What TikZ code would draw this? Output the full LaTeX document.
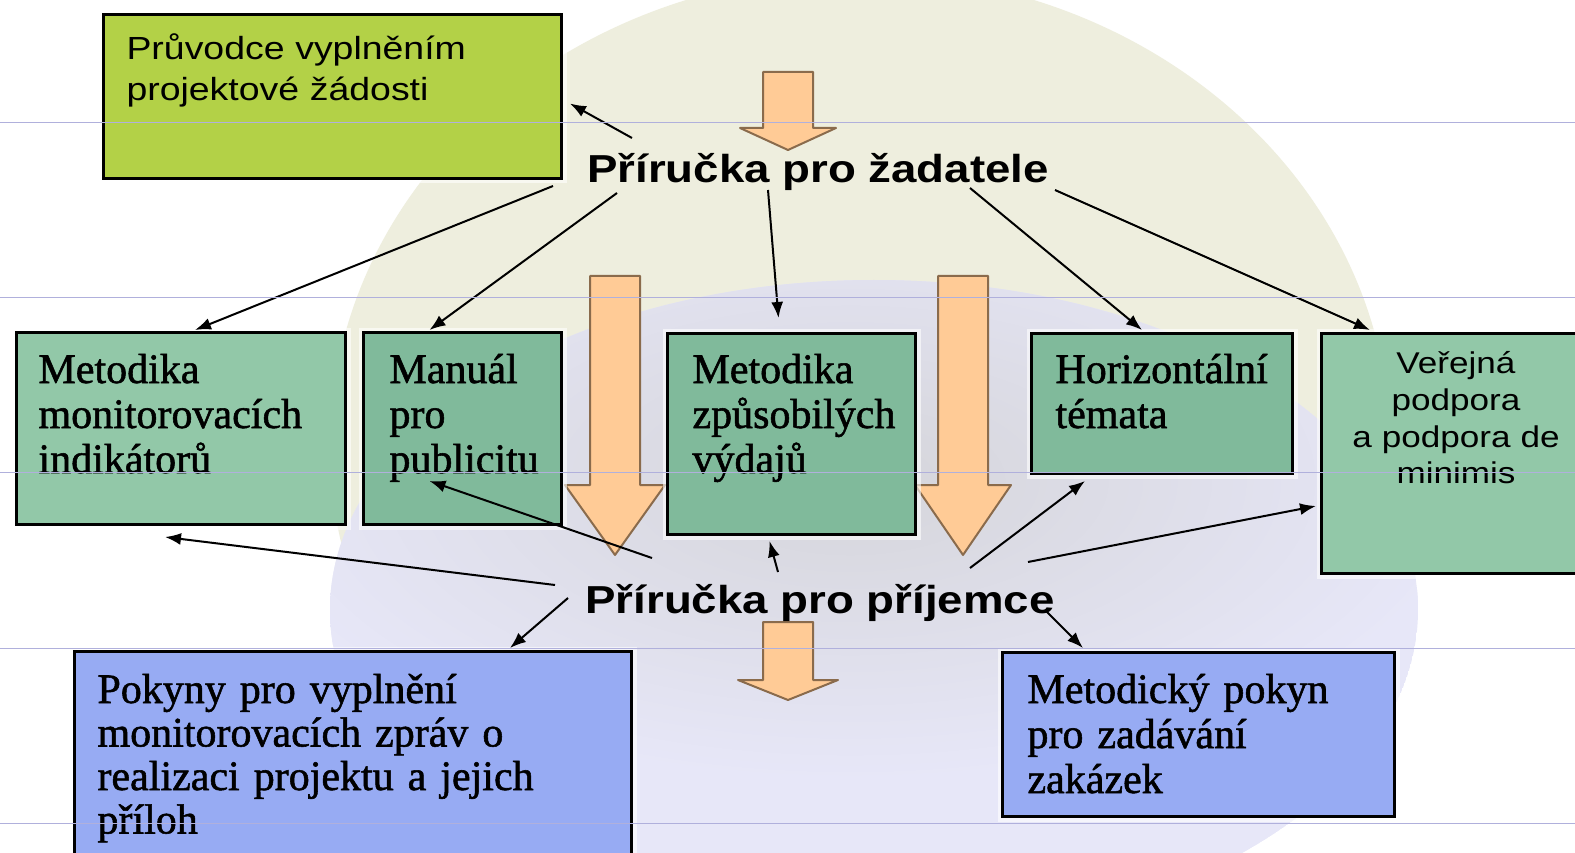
\documentclass[tikz,border=0pt]{standalone}
\usepackage{fontspec}
\setmainfont{Liberation Serif}[FakeBold=1.3,WordSpace=0.75]
\newfontfamily\arialw{Liberation Sans}[FakeStretch=1.17]
\usetikzlibrary{arrows.meta}
\definecolor{beigec}{HTML}{EEEEDE}
\definecolor{grayc}{HTML}{D5D5DA}
\definecolor{lavc}{HTML}{E7E7F8}
\definecolor{limec}{HTML}{B3D147}
\definecolor{tealc}{HTML}{80BA9B}
\definecolor{lightteal}{HTML}{92C8A8}
\definecolor{bluec}{HTML}{97ABF3}
\definecolor{arrowfill}{HTML}{FFCB96}
\definecolor{arrowline}{HTML}{8A6B4C}
\definecolor{gridc}{HTML}{B0B0DC}

\begin{document}
\begin{tikzpicture}[x=1pt,y=-1pt,line width=1pt,
  docbox/.style={draw=black,line width=3pt,inner sep=0pt,anchor=north west,preaction={draw=white,line width=10pt,opacity=.6}},
  doctext/.style={anchor=base west,inner sep=0pt,align=left,text width=520pt,font=\fontsize{42}{45}\selectfont},
  handbook/.style={anchor=base,inner sep=0pt,font=\arialw\bfseries\fontsize{39}{46}\selectfont},
  conn/.style={line width=2pt,-{Latex[length=16pt,width=12pt]}},
  bigarrow/.style={draw=arrowline,fill=arrowfill,line width=2pt,line join=round},
  gridline/.style={draw=gridc,line width=1pt}]
\path[use as bounding box,fill=white] (0,0) rectangle (1575,853);
\fill[beigec] (860,446) ellipse [x radius=530,y radius=472];
\begin{scope}
\clip (874,610) ellipse [x radius=544,y radius=330];
\fill[lavc] (874,610) ellipse [x radius=544,y radius=330];
\shade[inner color=grayc,outer color=lavc] (850,480) ellipse [x radius=620,y radius=300];
\end{scope}
\foreach \cx/\ytop/\yneck/\ytip/\hw in {788/72/128/150/48,615/276/485/555/50,963/276/485/555/48,788/622/680/700/50}
  \draw[bigarrow] (\cx-25,\ytop) -- (\cx+25,\ytop) -- (\cx+25,\yneck) -- (\cx+\hw,\yneck) -- (\cx,\ytip) -- (\cx-\hw,\yneck) -- (\cx-25,\yneck) -- cycle;
\node[docbox,fill=limec,minimum width=458pt,minimum height=164pt] (pru) at (102,13) {};
\node[doctext,font=\arialw\fontsize{32}{41}\selectfont] (pru-t) at ([shift={(24,47)}]pru.north west) {Průvodce vyplněním\\projektové žádosti};
\node[docbox,fill=lightteal,minimum width=329pt,minimum height=192pt] (mon) at (15,331) {};
\node[doctext] (mon-t) at ([shift={(23,52)}]mon.north west) {Metodika\\monitorovacích\\indikátorů};
\node[docbox,fill=tealc,minimum width=198pt,minimum height=192pt] (man) at (362,331) {};
\node[doctext] (man-t) at ([shift={(27,52)}]man.north west) {Manuál\\pro\\publicitu};
\node[docbox,fill=tealc,minimum width=248pt,minimum height=201pt] (zpu) at (666,332) {};
\node[doctext] (zpu-t) at ([shift={(26,51)}]zpu.north west) {Metodika\\způsobilých\\výdajů};
\node[docbox,fill=tealc,minimum width=261pt,minimum height=140pt] (hor) at (1030,332) {};
\node[doctext] (hor-t) at ([shift={(25,51)}]hor.north west) {Horizontální\\témata};
\node[docbox,fill=lightteal,minimum width=290pt,minimum height=240pt] (ver) at (1320,332) {};
\node[doctext,anchor=base,align=center,text width=250pt,font=\arialw\fontsize{30}{37}\selectfont] (ver-t) at ([shift={(136,41)}]ver.north west) {Veřejná\\podpora\\a podpora de\\minimis};
\node[docbox,fill=bluec,minimum width=557pt,minimum height=230pt] (pok) at (73,650) {};
\node[doctext,font=\fontsize{42}{43.5}\selectfont] (pok-t) at ([shift={(24,53)}]pok.north west) {Pokyny pro vyplnění\\monitorovacích zpráv o\\realizaci projektu a jejich\\příloh};
\node[docbox,fill=bluec,minimum width=392pt,minimum height=164pt] (met) at (1001,651) {};
\node[doctext] (met-t) at ([shift={(26,52)}]met.north west) {Metodický pokyn\\pro zadávání\\zakázek};
\node[handbook] (zad) at (818,183) {Příručka pro žadatele};
\node[handbook] (pri) at (820,613) {Příručka pro příjemce};
\draw[conn] ([shift={(-186,-45)}]zad.base) -- ([shift={(7,7)}]pru.east);
\draw[conn] ([shift={(-265,3)}]zad.base) -- ([shift={(14,-1)}]mon.north);
\draw[conn] ([shift={(-201,10)}]zad.base) -- ([shift={(-33,-1)}]man.north);
\draw[conn] ([shift={(-50,7)}]zad.base) -- ([shift={(-13,-14)}]zpu.north);
\draw[conn] ([shift={(152,5)}]zad.base) -- ([shift={(-20,-2)}]hor.north);
\draw[conn] ([shift={(237,7)}]zad.base) -- ([shift={(50,-2)}]ver.north west);
\draw[conn] ([shift={(-265,-28)}]pri.base) -- ([shift={(-16,11)}]mon.south);
\draw[conn] ([shift={(-168,-55)}]pri.base) -- ([shift={(-33,-45)}]man.south);
\draw[conn] ([shift={(-42,-41)}]pri.base) -- ([shift={(-22,5)}]zpu.south);
\draw[conn] ([shift={(150,-45)}]pri.base) -- ([shift={(-77,6)}]hor.south);
\draw[conn] ([shift={(208,-51)}]pri.base) -- ([shift={(-4,174)}]ver.north west);
\draw[conn] ([shift={(-252,-15)}]pri.base) -- ([shift={(437,-2)}]pok.north west);
\draw[conn] ([shift={(225,-3)}]pri.base) -- ([shift={(82,-3)}]met.north west);
\foreach \y in {123,297,472,648,823}
  \draw[gridline] (0,\y) -- (1575,\y);
\end{tikzpicture}
\end{document}
